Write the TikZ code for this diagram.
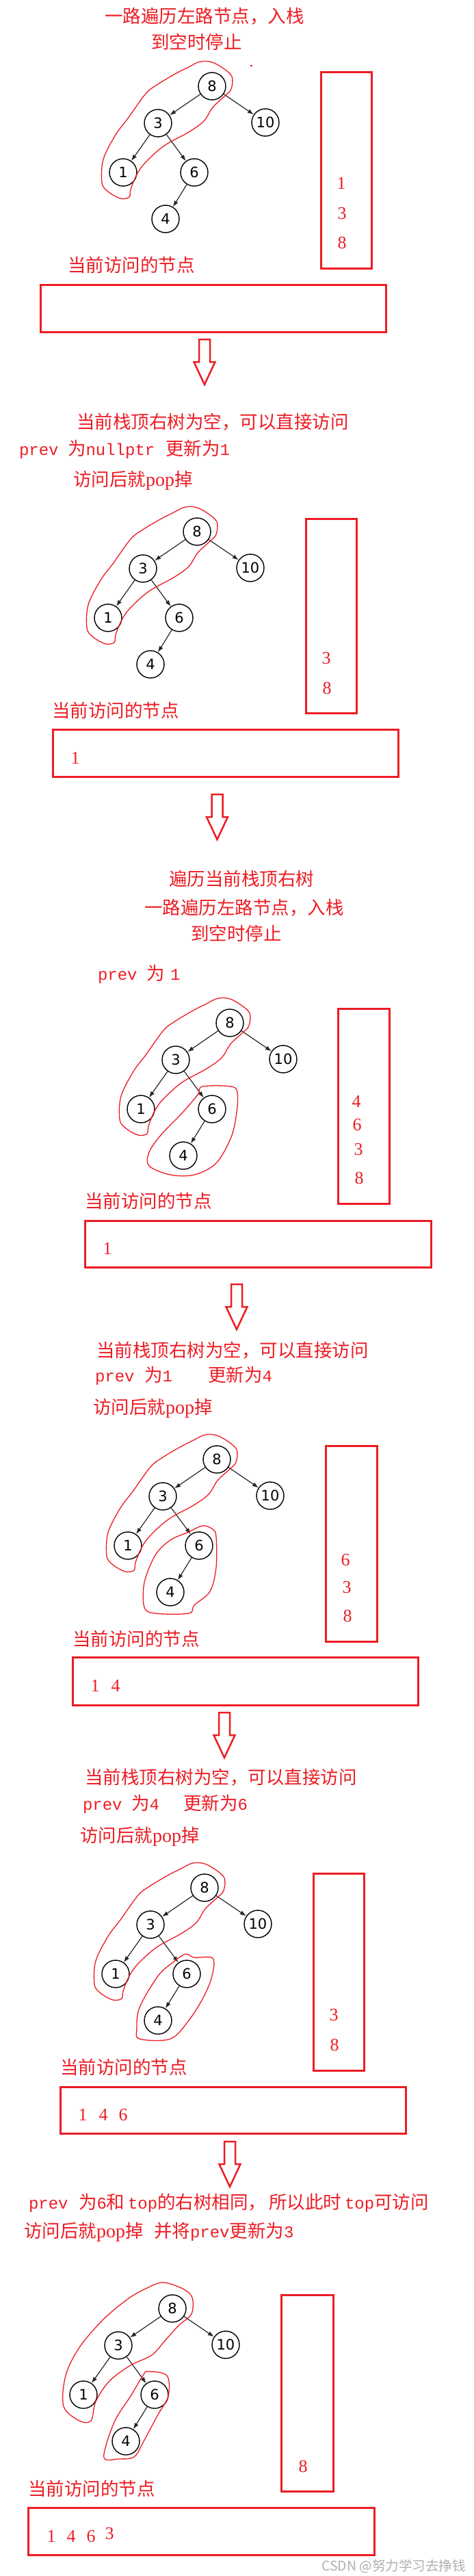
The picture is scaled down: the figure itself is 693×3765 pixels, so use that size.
\documentclass[tikz,border=0pt]{standalone}
\usepackage{fontspec}
\setmainfont{Liberation Serif}
\setmonofont{Liberation Mono}
\newfontfamily\cjk{Noto Sans CJK SC}
\newfontfamily\dvs{DejaVu Sans}
\usetikzlibrary{arrows.meta}
\definecolor{myred}{RGB}{237,28,36}
\definecolor{wmgray}{RGB}{175,175,175}
\newcommand\mono[1]{{\ttfamily\fontsize{24}{28}\selectfont #1}}
\newcommand\pp[1]{{\rmfamily\fontsize{28}{30}\selectfont #1}}
\tikzset{
 txt/.style={anchor=base west, inner sep=0pt, outer sep=0pt, text=myred, font=\cjk\fontsize{26.5}{30}\selectfont},
 dig/.style={inner sep=0pt, text=myred, font=\rmfamily\fontsize{26}{28}\selectfont},
 boxline/.style={draw=myred, line width=3pt},
 arrowline/.style={draw=myred, fill=white, line width=2.5pt, line join=miter},
 loopline/.style={draw=myred, line width=1.3pt},
 tnode/.style={circle, draw=black, line width=1.4pt, minimum size=40pt, inner sep=0pt, font=\dvs\fontsize{21}{24}\selectfont},
 tedge/.style={draw=black!85, line width=1.2pt, -{Latex[length=9pt,width=6.5pt]}},
}
\newcommand\bstree[3]{%
 \begin{scope}[shift={(#2,#3)}]
 \node[tnode] (#1n8) at (0,0) {8};
 \node[tnode] (#1n3) at (-79,54) {3};
 \node[tnode] (#1n10) at (78,53) {10};
 \node[tnode] (#1n1) at (-130,126) {1};
 \node[tnode] (#1n6) at (-26,126) {6};
 \node[tnode] (#1n4) at (-68,194) {4};
 \draw[tedge] (#1n8) -- (#1n3);
 \draw[tedge] (#1n8) -- (#1n10);
 \draw[tedge] (#1n3) -- (#1n1);
 \draw[tedge] (#1n3) -- (#1n6);
 \draw[tedge] (#1n6) -- (#1n4);
 \end{scope}}
\newcommand\loopA[2]{%
 \begin{scope}[shift={(#1,#2)}]
 \draw[loopline] plot[smooth cycle, tension=0.55] coordinates {(-17,-36) (3,-34) (28,-16) (28,4) (19,14) (1,31) (-12,51) (-34,67) (-70,87) (-97,111) (-110,129) (-119,151) (-121,162) (-134,164) (-152,154) (-161,141) (-159,107) (-141,71) (-123,47) (-97,11) (-79,-3) (-52,-19) (-34,-28)};
 \end{scope}}
\newcommand\hollowarrow[2]{%
 \draw[arrowline] (#1-8,#2) -- (#1+8,#2) -- (#1+8,#2+33) -- (#1+15.5,#2+33) -- (#1,#2+66) -- (#1-15.5,#2+33) -- (#1-8,#2+33) -- cycle;}
\begin{document}
\begin{tikzpicture}[x=1pt,y=-1pt]
\useasboundingbox[fill=white] (0,0) rectangle (693,3765);

% ---------- Panel 1
\node[txt] (t1a) at (153,34) {一路遍历左路节点，入栈};
\node[txt] (t1b) at (221,72) {到空时停止};
\fill[myred] (366,95) rectangle (369,97);
\bstree{a}{310}{126}
\loopA{310}{126}
\draw[boxline] (469,106) rectangle (543,392);
\node[dig] (s1a) at (499,268) {1};
\node[dig] (s1b) at (500,312) {3};
\node[dig] (s1c) at (500,355) {8};
\node[txt] (c1) at (99,397) {当前访问的节点};
\draw[boxline] (59,416) rectangle (564,485);
\hollowarrow{299}{496}

% ---------- Panel 2
\node[txt] (t2a) at (112,626) {当前栈顶右树为空，可以直接访问};
\node[txt] (t2b) at (28,665) {\mono{prev}};
\node[txt] (t2c) at (99,665) {为\mono{nullptr}};
\node[txt] (t2d) at (242,665) {更新为\mono{1}};
\node[txt] (t2e) at (107,710) {访问后就\pp{pop}掉};
\bstree{b}{288}{777}
\loopA{288}{777}
\draw[boxline] (447,758) rectangle (521,1042);
\node[dig] (s2a) at (477,962) {3};
\node[dig] (s2b) at (478,1006) {8};
\node[txt] (c2) at (76,1048) {当前访问的节点};
\draw[boxline] (77,1066) rectangle (582,1135);
\node[dig] (v2a) at (110,1108) {1};
\hollowarrow{317.5}{1161}

% ---------- Panel 3
\node[txt] (t3a) at (247,1294) {遍历当前栈顶右树};
\node[txt] (t3b) at (211,1336) {一路遍历左路节点，入栈};
\node[txt] (t3c) at (279,1374) {到空时停止};
\node[txt] (t3d) at (143,1432) {\mono{prev}};
\node[txt] (t3e) at (214,1432) {为};
\node[txt] (t3f) at (249,1432) {\mono{1}};
\bstree{c}{336}{1495}
\loopA{336}{1495}
\begin{scope}[shift={(336,1495)}]
\draw[loopline] plot[smooth cycle, tension=0.55] coordinates {(-40,93) (2,93) (11,102) (10,131) (2,167) (-20,205) (-52,222) (-87,222) (-118,209) (-118,189) (-100,163) (-69,131) (-47,105)};
\end{scope}
\draw[boxline] (494,1474) rectangle (569,1759);
\node[dig] (s3a) at (521,1610) {4};
\node[dig] (s3b) at (522,1644) {6};
\node[dig] (s3c) at (524,1680) {3};
\node[dig] (s3d) at (525,1722) {8};
\node[txt] (c3) at (124,1765) {当前访问的节点};
\draw[boxline] (124,1784) rectangle (630,1852);
\node[dig] (v3a) at (157,1825) {1};
\hollowarrow{346}{1877}

% ---------- Panel 4
\node[txt] (t4a) at (141,1983) {当前栈顶右树为空，可以直接访问};
\node[txt] (t4b) at (139,2019) {\mono{prev}};
\node[txt] (t4c) at (211,2019) {为\mono{1}};
\node[txt] (t4d) at (304,2019) {更新为\mono{4}};
\node[txt] (t4e) at (136,2066) {访问后就\pp{pop}掉};
\bstree{d}{317}{2133}
\loopA{317}{2133}
\begin{scope}[shift={(317,2133)}]
\draw[loopline] plot[smooth cycle, tension=0.55] coordinates {(-21,97) (-6,102) (-1,113) (-1,158) (-10,193) (-33,213) (-41,225) (-90,225) (-106,216) (-106,180) (-90,140) (-68,118) (-41,106)};
\end{scope}
\draw[boxline] (476,2113) rectangle (551,2399);
\node[dig] (s4a) at (505,2280) {6};
\node[dig] (s4b) at (507,2320) {3};
\node[dig] (s4c) at (508,2362) {8};
\node[txt] (c4) at (106,2405) {当前访问的节点};
\draw[boxline] (106,2422) rectangle (611,2492);
\node[dig] (v4a) at (139,2464) {1};
\node[dig] (v4b) at (169,2464) {4};
\hollowarrow{328}{2503}

% ---------- Panel 5
\node[txt] (t5a) at (124,2607) {当前栈顶右树为空，可以直接访问};
\node[txt] (t5b) at (121,2645) {\mono{prev}};
\node[txt] (t5c) at (192,2645) {为\mono{4}};
\node[txt] (t5d) at (268,2645) {更新为\mono{6}};
\node[txt] (t5e) at (117,2692) {访问后就\pp{pop}掉};
\bstree{e}{299}{2759}
\loopA{299}{2759}
\begin{scope}[shift={(299,2759)}]
\draw[loopline] plot[smooth cycle, tension=0.55] coordinates {(-28,97) (-15,102) (12,103) (11,129) (-1,159) (-23,194) (-50,221) (-95,221) (-99,206) (-95,175) (-68,129) (-46,109)};
\end{scope}
\draw[boxline] (458,2738) rectangle (532,3026);
\node[dig] (s5a) at (488,2945) {3};
\node[dig] (s5b) at (489,2989) {8};
\node[txt] (c5) at (88,3031) {当前访问的节点};
\draw[boxline] (88,3050) rectangle (593,3118);
\node[dig] (v5a) at (121,3091) {1};
\node[dig] (v5b) at (151,3091) {4};
\node[dig] (v5c) at (180,3091) {6};
\hollowarrow{336}{3130}

% ---------- Panel 6
\node[txt] (t6a) at (42,3228) {\mono{prev}};
\node[txt] (t6b) at (115,3228) {为\mono{6}和};
\node[txt] (t6c) at (187,3228) {\mono{top}的右树相同，};
\node[txt] (t6d) at (393,3228) {所以此时};
\node[txt] (t6e) at (504,3228) {\mono{top}可访问};
\node[txt] (t6f) at (35,3270) {访问后就\pp{pop}掉};
\node[txt] (t6g) at (225,3270) {并将\mono{prev}更新为\mono{3}};
\bstree{f}{252}{3374}
\begin{scope}[shift={(252,3374)}]
\draw[loopline] plot[smooth cycle, tension=0.55] coordinates {(-14,-38) (15,-29) (29,-16) (28,8) (10,24) (-10,46) (-30,68) (-61,83) (-92,106) (-112,136) (-119,164) (-136,164) (-159,143) (-156,98) (-136,57) (-101,16) (-65,-14) (-39,-29)};
\draw[loopline] plot[smooth cycle, tension=0.55] coordinates {(-36,92) (-8,98) (-6,128) (-21,155) (-43,196) (-56,217) (-79,220) (-99,220) (-97,200) (-83,162) (-61,128) (-43,98)};
\end{scope}
\draw[boxline] (411,3354) rectangle (487,3641);
\node[dig] (s6a) at (443,3605) {8};
\node[txt] (c6) at (41,3647) {当前访问的节点};
\draw[boxline] (41,3665) rectangle (547,3734);
\node[dig] (v6a) at (75,3707) {1};
\node[dig] (v6b) at (104,3707) {4};
\node[dig] (v6c) at (133,3707) {6};
\node[dig] (v6d) at (160,3703) {3};
\node[anchor=base east, inner sep=0pt, text=wmgray, font=\cjk\fontsize{19.5}{22}\selectfont] (wm) at (681,3757) {CSDN @努力学习去挣钱};
\end{tikzpicture}
\end{document}
